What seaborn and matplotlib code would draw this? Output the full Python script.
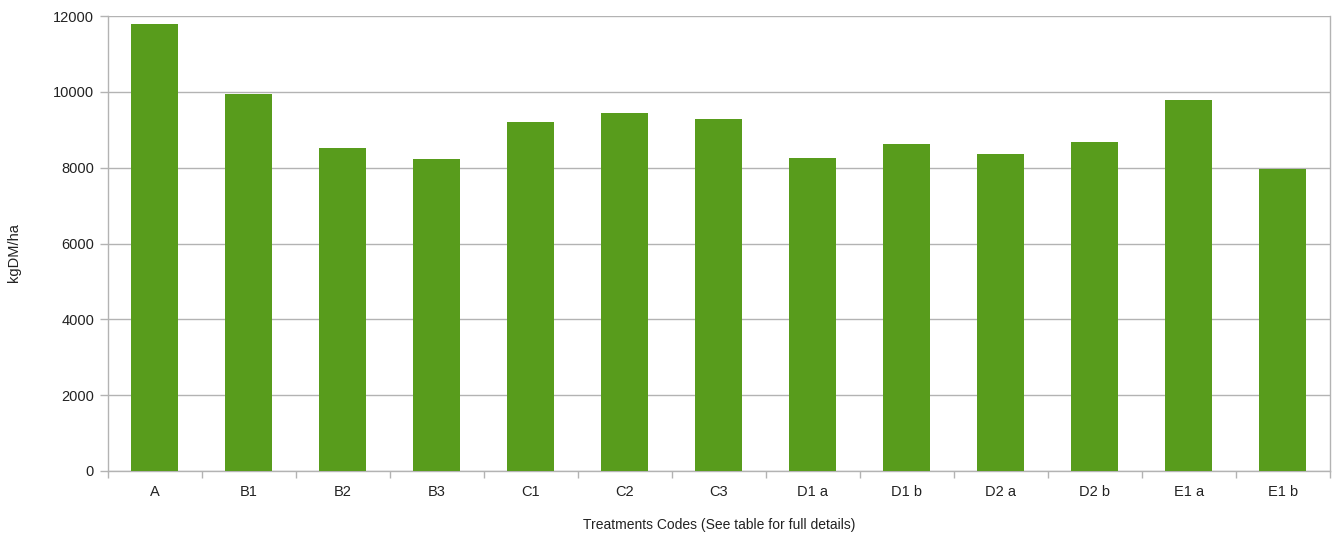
# Treatment yields bar chart

import numpy as np
import pandas as pd
import matplotlib
matplotlib.use("Agg")
import matplotlib.pyplot as plt
import seaborn as sns

treatments = ["A", "B1", "B2", "B3", "C1", "C2", "C3",
              "D1 a", "D1 b", "D2 a", "D2 b", "E1 a", "E1 b"]
yield_kg = [11800, 9945, 8525, 8230, 9215, 9440, 9300,
            8270, 8620, 8370, 8675, 9800, 7965]

df = pd.DataFrame({"treatment": treatments, "yield": yield_kg})

sns.set_style("white")
plt.rcParams['font.family'] = ['Liberation Sans', 'DejaVu Sans']

fig = plt.figure(figsize=(13.38, 5.4), dpi=100)
ax = fig.add_axes([0.0807, 0.128, 0.9133, 0.842])

sns.barplot(data=df, x="treatment", y="yield", color="#589c1c",
            saturation=1, width=0.5, linewidth=0, ax=ax, zorder=3)

ax.set_ylim(0, 12000)
ax.set_yticks(np.arange(0, 12001, 2000))
ax.set_xlim(-0.5, len(treatments) - 0.5)
ax.yaxis.grid(True, color="#b3b3b3", linewidth=1, zorder=0)
ax.set_axisbelow(True)

# x ticks sit between categories
ax.set_xticks(np.arange(-0.5, len(treatments), 1.0), minor=True)
ax.tick_params(axis="x", which="major", bottom=True, length=0, pad=10, labelsize=10.5, colors="#222222")
ax.tick_params(axis="x", which="minor", bottom=True, length=5, width=1, color="#b3b3b3", direction="out")
ax.tick_params(axis="y", left=True, length=6, width=1, color="#b3b3b3", direction="out", labelsize=10.5,
               labelcolor="#222222", pad=4)

for side in ["left", "bottom", "right"]:
    ax.spines[side].set_color("#b3b3b3")
    ax.spines[side].set_linewidth(1)
ax.spines["top"].set_visible(False)

ax.set_xlabel("Treatments Codes (See table for full details)", fontsize=10, color="#222222", labelpad=14)
ax.set_ylabel("kgDM/ha", fontsize=10.5, color="#222222")
ax.yaxis.set_label_coords(-0.071, 0.48)

fig.savefig("out.png", dpi=100)
